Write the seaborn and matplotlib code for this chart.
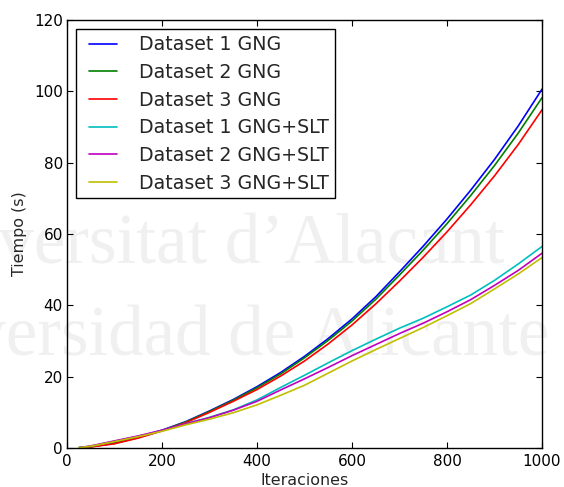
import numpy as np
import pandas as pd
import matplotlib
matplotlib.use("Agg")
import matplotlib.pyplot as plt
from matplotlib.lines import Line2D
from matplotlib.legend_handler import HandlerLine2D
import seaborn as sns

iteraciones = [25, 50, 100, 150, 200, 250, 300, 350, 400, 450, 500,
               550, 600, 650, 700, 750, 800, 850, 900, 950, 1000]

gng_1 = [0.1, 0.4, 1.4, 3.0, 5.0, 7.4, 10.4, 13.6, 17.2, 21.2, 25.7,
         30.7, 36.2, 42.4, 49.4, 56.6, 64.2, 72.3, 80.9, 90.3, 100.6]
gng_2 = [0.1, 0.35, 1.3, 2.9, 4.9, 7.3, 10.25, 13.4, 16.9, 20.8, 25.3,
         30.2, 35.6, 41.7, 48.5, 55.5, 62.9, 70.8, 79.2, 88.3, 98.2]
gng_3 = [0.05, 0.3, 1.2, 2.8, 4.8, 7.1, 10.0, 13.1, 16.4, 20.2, 24.4,
         29.2, 34.5, 40.4, 46.8, 53.5, 60.6, 68.2, 76.3, 85.1, 94.8]
slt_1 = [0.1, 0.5, 1.9, 3.3, 4.9, 6.8, 8.6, 10.7, 13.5, 17.0, 20.4,
         23.9, 27.3, 30.5, 33.6, 36.4, 39.6, 42.9, 47.0, 51.6, 56.5]
slt_2 = [0.1, 0.6, 2.0, 3.4, 5.0, 6.8, 8.5, 10.6, 13.1, 16.3, 19.4,
         22.6, 25.9, 29.0, 32.1, 35.0, 38.2, 41.6, 45.6, 49.8, 54.6]
slt_3 = [0.1, 0.5, 1.8, 3.2, 4.7, 6.5, 8.1, 9.9, 12.1, 14.8, 17.6,
         21.0, 24.4, 27.6, 30.7, 33.8, 37.1, 40.5, 44.6, 48.8, 53.4]

series_names = ["Dataset 1 GNG", "Dataset 2 GNG", "Dataset 3 GNG",
                "Dataset 1 GNG+SLT", "Dataset 2 GNG+SLT", "Dataset 3 GNG+SLT"]
series_values = [gng_1, gng_2, gng_3, slt_1, slt_2, slt_3]
series_colors = ["#0000ff", "#008000", "#ff0000", "#00bfbf", "#bf00bf", "#bfbf00"]

df = pd.concat(
    [pd.DataFrame({"Iteraciones": iteraciones, "Tiempo": v, "Serie": n})
     for n, v in zip(series_names, series_values)],
    ignore_index=True,
)

sns.set_theme(style="ticks", rc={
    "xtick.direction": "in", "ytick.direction": "in",
    "xtick.top": True, "ytick.right": True,
    "xtick.major.size": 4.5, "ytick.major.size": 4.5,
    "xtick.major.width": 0.8, "ytick.major.width": 0.8,
    "axes.linewidth": 1.0, "axes.edgecolor": "black",
})
plt.rcParams["font.family"] = ["DejaVu Sans"]

fig = plt.figure(figsize=(5.64, 4.87), dpi=100)
fig.patch.set_facecolor("white")
ax = fig.add_axes([0.1188, 0.080, 0.8422, 0.879])
ax.patch.set_alpha(0)

# faint institutional watermark behind the plot
wm_kw = dict(family=["Liberation Serif", "DejaVu Serif"], fontsize=51,
             color="#f0f0f0", zorder=-10)
fig.text(505 / 564, 1 - 263 / 487, "Universitat d\u2019Alacant", ha="right",
         va="baseline", **wm_kw)
fig.text(549 / 564, 1 - 355 / 487, "Universidad de Alicante", ha="right",
         va="baseline", **wm_kw)

sns.lineplot(data=df, x="Iteraciones", y="Tiempo", hue="Serie",
             palette=dict(zip(series_names, series_colors)),
             hue_order=series_names, linewidth=1.2, ax=ax)

ax.set_xlim(0, 1000)
ax.set_ylim(0, 120)
ax.set_xticks([0, 200, 400, 600, 800, 1000])
ax.set_yticks([0, 20, 40, 60, 80, 100, 120])
ax.tick_params(labelsize=11, colors="black")
ax.tick_params(axis="x", pad=4.5)
ax.tick_params(axis="y", pad=3)
ax.set_xlabel("Iteraciones", fontsize=11.4, labelpad=3)
ax.set_ylabel("Tiempo (s)", fontsize=11.4, labelpad=5)

handles, labels = ax.get_legend_handles_labels()
leg = ax.legend(handles, labels, loc="upper left", fontsize=13.7,
                frameon=True, fancybox=False,
                handlelength=1.845, handletextpad=1.125, labelspacing=0.456,
                borderpad=0.31, borderaxespad=0.49,
                handler_map={Line2D: HandlerLine2D(xpad=0.373)})
leg.get_frame().set_edgecolor("black")
leg.get_frame().set_linewidth(1.0)
leg.get_frame().set_alpha(1)

fig.savefig("out.png", dpi=100)
